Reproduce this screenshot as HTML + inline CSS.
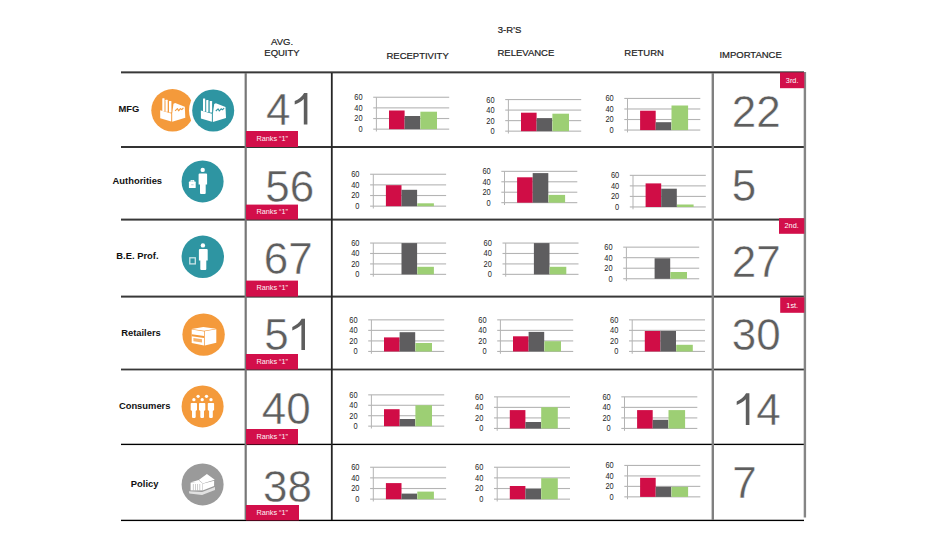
<!DOCTYPE html>
<html><head><meta charset="utf-8"><style>
html,body{margin:0;padding:0;background:#fff;width:940px;height:560px;overflow:hidden}
svg{display:block;font-family:"Liberation Sans", sans-serif}
</style></head><body>
<svg width="940" height="560" viewBox="0 0 940 560">
<rect x="121" y="71.36" width="683" height="2.0" fill="#383838"/>
<rect x="121" y="146.00" width="683" height="2.0" fill="#333333"/>
<rect x="121" y="218.60" width="683" height="2.0" fill="#383838"/>
<rect x="121" y="295.60" width="683" height="2.0" fill="#383838"/>
<rect x="121" y="368.60" width="683" height="1.8" fill="#383838"/>
<rect x="121" y="443.72" width="683" height="1.35" fill="#000000"/>
<rect x="121" y="519.73" width="683" height="1.35" fill="#000000"/>
<rect x="244.6" y="73" width="2.2" height="447" fill="#777777"/>
<rect x="330.9" y="73" width="1.8" height="447" fill="#262626"/>
<rect x="711.6" y="73" width="2.4" height="447" fill="#808080"/>
<rect x="803.7" y="72" width="2.4" height="445.5" fill="#858585"/>
<rect x="373.20" y="96.70" width="76.00" height="1.1" fill="#b4b4b4"/><rect x="373.20" y="107.33" width="76.00" height="1.1" fill="#b4b4b4"/><rect x="373.20" y="117.97" width="76.00" height="1.1" fill="#b4b4b4"/><rect x="373.20" y="128.60" width="76.00" height="1.1" fill="#b4b4b4"/><rect x="375.90" y="97.30" width="1.0" height="34.20" fill="#b4b4b4"/><rect x="389.00" y="110.50" width="15.60" height="18.70" fill="#d00d46"/><rect x="404.60" y="116.00" width="15.60" height="13.20" fill="#5e5d5f"/><rect x="420.40" y="111.70" width="16.60" height="17.50" fill="#9dcf74"/><text transform="translate(362.60,100.20) scale(0.9,1)" text-anchor="end" font-size="8.3" fill="#262626">60</text><text transform="translate(362.60,110.83) scale(0.9,1)" text-anchor="end" font-size="8.3" fill="#262626">40</text><text transform="translate(362.60,121.47) scale(0.9,1)" text-anchor="end" font-size="8.3" fill="#262626">20</text><text transform="translate(362.60,132.10) scale(0.9,1)" text-anchor="end" font-size="8.3" fill="#262626">0</text>
<rect x="505.20" y="99.00" width="76.00" height="1.1" fill="#b4b4b4"/><rect x="505.20" y="109.53" width="76.00" height="1.1" fill="#b4b4b4"/><rect x="505.20" y="120.07" width="76.00" height="1.1" fill="#b4b4b4"/><rect x="505.20" y="130.60" width="76.00" height="1.1" fill="#b4b4b4"/><rect x="507.90" y="99.60" width="1.0" height="33.90" fill="#b4b4b4"/><rect x="521.00" y="112.70" width="15.60" height="18.50" fill="#d00d46"/><rect x="536.60" y="118.10" width="15.60" height="13.10" fill="#5e5d5f"/><rect x="552.40" y="113.70" width="16.60" height="17.50" fill="#9dcf74"/><text transform="translate(494.60,102.50) scale(0.9,1)" text-anchor="end" font-size="8.3" fill="#262626">60</text><text transform="translate(494.60,113.03) scale(0.9,1)" text-anchor="end" font-size="8.3" fill="#262626">40</text><text transform="translate(494.60,123.57) scale(0.9,1)" text-anchor="end" font-size="8.3" fill="#262626">20</text><text transform="translate(494.60,134.10) scale(0.9,1)" text-anchor="end" font-size="8.3" fill="#262626">0</text>
<rect x="624.30" y="97.90" width="76.00" height="1.1" fill="#b4b4b4"/><rect x="624.30" y="108.43" width="76.00" height="1.1" fill="#b4b4b4"/><rect x="624.30" y="118.97" width="76.00" height="1.1" fill="#b4b4b4"/><rect x="624.30" y="129.50" width="76.00" height="1.1" fill="#b4b4b4"/><rect x="627.00" y="98.50" width="1.0" height="33.90" fill="#b4b4b4"/><rect x="640.10" y="110.70" width="15.60" height="19.40" fill="#d00d46"/><rect x="655.70" y="122.20" width="15.60" height="7.90" fill="#5e5d5f"/><rect x="671.50" y="105.50" width="16.60" height="24.60" fill="#9dcf74"/><text transform="translate(613.70,101.40) scale(0.9,1)" text-anchor="end" font-size="8.3" fill="#262626">60</text><text transform="translate(613.70,111.93) scale(0.9,1)" text-anchor="end" font-size="8.3" fill="#262626">40</text><text transform="translate(613.70,122.47) scale(0.9,1)" text-anchor="end" font-size="8.3" fill="#262626">20</text><text transform="translate(613.70,133.00) scale(0.9,1)" text-anchor="end" font-size="8.3" fill="#262626">0</text>
<rect x="370.10" y="173.70" width="76.00" height="1.1" fill="#b4b4b4"/><rect x="370.10" y="184.33" width="76.00" height="1.1" fill="#b4b4b4"/><rect x="370.10" y="194.97" width="76.00" height="1.1" fill="#b4b4b4"/><rect x="370.10" y="205.60" width="76.00" height="1.1" fill="#b4b4b4"/><rect x="372.80" y="174.30" width="1.0" height="34.20" fill="#b4b4b4"/><rect x="385.90" y="185.20" width="15.60" height="21.00" fill="#d00d46"/><rect x="401.50" y="189.80" width="15.60" height="16.40" fill="#5e5d5f"/><rect x="417.30" y="203.30" width="16.60" height="2.90" fill="#9dcf74"/><text transform="translate(359.50,177.20) scale(0.9,1)" text-anchor="end" font-size="8.3" fill="#262626">60</text><text transform="translate(359.50,187.83) scale(0.9,1)" text-anchor="end" font-size="8.3" fill="#262626">40</text><text transform="translate(359.50,198.47) scale(0.9,1)" text-anchor="end" font-size="8.3" fill="#262626">20</text><text transform="translate(359.50,209.10) scale(0.9,1)" text-anchor="end" font-size="8.3" fill="#262626">0</text>
<rect x="501.30" y="170.80" width="76.00" height="1.1" fill="#b4b4b4"/><rect x="501.30" y="181.23" width="76.00" height="1.1" fill="#b4b4b4"/><rect x="501.30" y="191.67" width="76.00" height="1.1" fill="#b4b4b4"/><rect x="501.30" y="202.10" width="76.00" height="1.1" fill="#b4b4b4"/><rect x="504.00" y="171.40" width="1.0" height="33.60" fill="#b4b4b4"/><rect x="517.10" y="177.30" width="15.60" height="25.40" fill="#d00d46"/><rect x="532.70" y="173.10" width="15.60" height="29.60" fill="#5e5d5f"/><rect x="548.50" y="194.90" width="16.60" height="7.80" fill="#9dcf74"/><text transform="translate(490.70,174.30) scale(0.9,1)" text-anchor="end" font-size="8.3" fill="#262626">60</text><text transform="translate(490.70,184.73) scale(0.9,1)" text-anchor="end" font-size="8.3" fill="#262626">40</text><text transform="translate(490.70,195.17) scale(0.9,1)" text-anchor="end" font-size="8.3" fill="#262626">20</text><text transform="translate(490.70,205.60) scale(0.9,1)" text-anchor="end" font-size="8.3" fill="#262626">0</text>
<rect x="629.80" y="174.80" width="76.00" height="1.1" fill="#b4b4b4"/><rect x="629.80" y="185.33" width="76.00" height="1.1" fill="#b4b4b4"/><rect x="629.80" y="195.87" width="76.00" height="1.1" fill="#b4b4b4"/><rect x="629.80" y="206.40" width="76.00" height="1.1" fill="#b4b4b4"/><rect x="632.50" y="175.40" width="1.0" height="33.90" fill="#b4b4b4"/><rect x="645.60" y="183.40" width="15.60" height="23.60" fill="#d00d46"/><rect x="661.20" y="188.70" width="15.60" height="18.30" fill="#5e5d5f"/><rect x="677.00" y="204.50" width="16.60" height="2.50" fill="#9dcf74"/><text transform="translate(619.20,178.30) scale(0.9,1)" text-anchor="end" font-size="8.3" fill="#262626">60</text><text transform="translate(619.20,188.83) scale(0.9,1)" text-anchor="end" font-size="8.3" fill="#262626">40</text><text transform="translate(619.20,199.37) scale(0.9,1)" text-anchor="end" font-size="8.3" fill="#262626">20</text><text transform="translate(619.20,209.90) scale(0.9,1)" text-anchor="end" font-size="8.3" fill="#262626">0</text>
<rect x="370.10" y="242.50" width="76.00" height="1.1" fill="#b4b4b4"/><rect x="370.10" y="252.93" width="76.00" height="1.1" fill="#b4b4b4"/><rect x="370.10" y="263.37" width="76.00" height="1.1" fill="#b4b4b4"/><rect x="370.10" y="273.80" width="76.00" height="1.1" fill="#b4b4b4"/><rect x="372.80" y="243.10" width="1.0" height="33.60" fill="#b4b4b4"/><rect x="401.50" y="243.10" width="15.60" height="31.30" fill="#5e5d5f"/><rect x="417.30" y="266.80" width="16.60" height="7.60" fill="#9dcf74"/><text transform="translate(359.50,246.00) scale(0.9,1)" text-anchor="end" font-size="8.3" fill="#262626">60</text><text transform="translate(359.50,256.43) scale(0.9,1)" text-anchor="end" font-size="8.3" fill="#262626">40</text><text transform="translate(359.50,266.87) scale(0.9,1)" text-anchor="end" font-size="8.3" fill="#262626">20</text><text transform="translate(359.50,277.30) scale(0.9,1)" text-anchor="end" font-size="8.3" fill="#262626">0</text>
<rect x="502.50" y="242.50" width="76.00" height="1.1" fill="#b4b4b4"/><rect x="502.50" y="252.93" width="76.00" height="1.1" fill="#b4b4b4"/><rect x="502.50" y="263.37" width="76.00" height="1.1" fill="#b4b4b4"/><rect x="502.50" y="273.80" width="76.00" height="1.1" fill="#b4b4b4"/><rect x="505.20" y="243.10" width="1.0" height="33.60" fill="#b4b4b4"/><rect x="533.90" y="243.10" width="15.60" height="31.30" fill="#5e5d5f"/><rect x="549.70" y="266.80" width="16.60" height="7.60" fill="#9dcf74"/><text transform="translate(491.90,246.00) scale(0.9,1)" text-anchor="end" font-size="8.3" fill="#262626">60</text><text transform="translate(491.90,256.43) scale(0.9,1)" text-anchor="end" font-size="8.3" fill="#262626">40</text><text transform="translate(491.90,266.87) scale(0.9,1)" text-anchor="end" font-size="8.3" fill="#262626">20</text><text transform="translate(491.90,277.30) scale(0.9,1)" text-anchor="end" font-size="8.3" fill="#262626">0</text>
<rect x="623.20" y="246.60" width="76.00" height="1.1" fill="#b4b4b4"/><rect x="623.20" y="257.13" width="76.00" height="1.1" fill="#b4b4b4"/><rect x="623.20" y="267.67" width="76.00" height="1.1" fill="#b4b4b4"/><rect x="623.20" y="278.20" width="76.00" height="1.1" fill="#b4b4b4"/><rect x="625.90" y="247.20" width="1.0" height="33.90" fill="#b4b4b4"/><rect x="654.60" y="258.30" width="15.60" height="20.50" fill="#5e5d5f"/><rect x="670.40" y="272.00" width="16.60" height="6.80" fill="#9dcf74"/><text transform="translate(612.60,250.10) scale(0.9,1)" text-anchor="end" font-size="8.3" fill="#262626">60</text><text transform="translate(612.60,260.63) scale(0.9,1)" text-anchor="end" font-size="8.3" fill="#262626">40</text><text transform="translate(612.60,271.17) scale(0.9,1)" text-anchor="end" font-size="8.3" fill="#262626">20</text><text transform="translate(612.60,281.70) scale(0.9,1)" text-anchor="end" font-size="8.3" fill="#262626">0</text>
<rect x="368.20" y="319.30" width="76.00" height="1.1" fill="#b4b4b4"/><rect x="368.20" y="329.83" width="76.00" height="1.1" fill="#b4b4b4"/><rect x="368.20" y="340.37" width="76.00" height="1.1" fill="#b4b4b4"/><rect x="368.20" y="350.90" width="76.00" height="1.1" fill="#b4b4b4"/><rect x="370.90" y="319.90" width="1.0" height="33.90" fill="#b4b4b4"/><rect x="384.00" y="337.40" width="15.60" height="14.10" fill="#d00d46"/><rect x="399.60" y="332.20" width="15.60" height="19.30" fill="#5e5d5f"/><rect x="415.40" y="343.00" width="16.60" height="8.50" fill="#9dcf74"/><text transform="translate(357.60,322.80) scale(0.9,1)" text-anchor="end" font-size="8.3" fill="#262626">60</text><text transform="translate(357.60,333.33) scale(0.9,1)" text-anchor="end" font-size="8.3" fill="#262626">40</text><text transform="translate(357.60,343.87) scale(0.9,1)" text-anchor="end" font-size="8.3" fill="#262626">20</text><text transform="translate(357.60,354.40) scale(0.9,1)" text-anchor="end" font-size="8.3" fill="#262626">0</text>
<rect x="497.20" y="319.30" width="76.00" height="1.1" fill="#b4b4b4"/><rect x="497.20" y="329.83" width="76.00" height="1.1" fill="#b4b4b4"/><rect x="497.20" y="340.37" width="76.00" height="1.1" fill="#b4b4b4"/><rect x="497.20" y="350.90" width="76.00" height="1.1" fill="#b4b4b4"/><rect x="499.90" y="319.90" width="1.0" height="33.90" fill="#b4b4b4"/><rect x="513.00" y="336.30" width="15.60" height="15.20" fill="#d00d46"/><rect x="528.60" y="331.90" width="15.60" height="19.60" fill="#5e5d5f"/><rect x="544.40" y="341.20" width="16.60" height="10.30" fill="#9dcf74"/><text transform="translate(486.60,322.80) scale(0.9,1)" text-anchor="end" font-size="8.3" fill="#262626">60</text><text transform="translate(486.60,333.33) scale(0.9,1)" text-anchor="end" font-size="8.3" fill="#262626">40</text><text transform="translate(486.60,343.87) scale(0.9,1)" text-anchor="end" font-size="8.3" fill="#262626">20</text><text transform="translate(486.60,354.40) scale(0.9,1)" text-anchor="end" font-size="8.3" fill="#262626">0</text>
<rect x="629.00" y="319.30" width="76.00" height="1.1" fill="#b4b4b4"/><rect x="629.00" y="329.83" width="76.00" height="1.1" fill="#b4b4b4"/><rect x="629.00" y="340.37" width="76.00" height="1.1" fill="#b4b4b4"/><rect x="629.00" y="350.90" width="76.00" height="1.1" fill="#b4b4b4"/><rect x="631.70" y="319.90" width="1.0" height="33.90" fill="#b4b4b4"/><rect x="644.80" y="331.00" width="15.60" height="20.50" fill="#d00d46"/><rect x="660.40" y="331.00" width="15.60" height="20.50" fill="#5e5d5f"/><rect x="676.20" y="344.80" width="16.60" height="6.70" fill="#9dcf74"/><text transform="translate(618.40,322.80) scale(0.9,1)" text-anchor="end" font-size="8.3" fill="#262626">60</text><text transform="translate(618.40,333.33) scale(0.9,1)" text-anchor="end" font-size="8.3" fill="#262626">40</text><text transform="translate(618.40,343.87) scale(0.9,1)" text-anchor="end" font-size="8.3" fill="#262626">20</text><text transform="translate(618.40,354.40) scale(0.9,1)" text-anchor="end" font-size="8.3" fill="#262626">0</text>
<rect x="368.20" y="394.30" width="76.00" height="1.1" fill="#b4b4b4"/><rect x="368.20" y="404.73" width="76.00" height="1.1" fill="#b4b4b4"/><rect x="368.20" y="415.17" width="76.00" height="1.1" fill="#b4b4b4"/><rect x="368.20" y="425.60" width="76.00" height="1.1" fill="#b4b4b4"/><rect x="370.90" y="394.90" width="1.0" height="33.60" fill="#b4b4b4"/><rect x="384.00" y="409.20" width="15.60" height="17.00" fill="#d00d46"/><rect x="399.60" y="419.00" width="15.60" height="7.20" fill="#5e5d5f"/><rect x="415.40" y="405.20" width="16.60" height="21.00" fill="#9dcf74"/><text transform="translate(357.60,397.80) scale(0.9,1)" text-anchor="end" font-size="8.3" fill="#262626">60</text><text transform="translate(357.60,408.23) scale(0.9,1)" text-anchor="end" font-size="8.3" fill="#262626">40</text><text transform="translate(357.60,418.67) scale(0.9,1)" text-anchor="end" font-size="8.3" fill="#262626">20</text><text transform="translate(357.60,429.10) scale(0.9,1)" text-anchor="end" font-size="8.3" fill="#262626">0</text>
<rect x="494.00" y="396.30" width="76.00" height="1.1" fill="#b4b4b4"/><rect x="494.00" y="406.83" width="76.00" height="1.1" fill="#b4b4b4"/><rect x="494.00" y="417.37" width="76.00" height="1.1" fill="#b4b4b4"/><rect x="494.00" y="427.90" width="76.00" height="1.1" fill="#b4b4b4"/><rect x="496.70" y="396.90" width="1.0" height="33.90" fill="#b4b4b4"/><rect x="509.80" y="410.10" width="15.60" height="18.40" fill="#d00d46"/><rect x="525.40" y="422.00" width="15.60" height="6.50" fill="#5e5d5f"/><rect x="541.20" y="407.20" width="16.60" height="21.30" fill="#9dcf74"/><text transform="translate(483.40,399.80) scale(0.9,1)" text-anchor="end" font-size="8.3" fill="#262626">60</text><text transform="translate(483.40,410.33) scale(0.9,1)" text-anchor="end" font-size="8.3" fill="#262626">40</text><text transform="translate(483.40,420.87) scale(0.9,1)" text-anchor="end" font-size="8.3" fill="#262626">20</text><text transform="translate(483.40,431.40) scale(0.9,1)" text-anchor="end" font-size="8.3" fill="#262626">0</text>
<rect x="621.30" y="396.30" width="76.00" height="1.1" fill="#b4b4b4"/><rect x="621.30" y="406.83" width="76.00" height="1.1" fill="#b4b4b4"/><rect x="621.30" y="417.37" width="76.00" height="1.1" fill="#b4b4b4"/><rect x="621.30" y="427.90" width="76.00" height="1.1" fill="#b4b4b4"/><rect x="624.00" y="396.90" width="1.0" height="33.90" fill="#b4b4b4"/><rect x="637.10" y="410.10" width="15.60" height="18.40" fill="#d00d46"/><rect x="652.70" y="419.80" width="15.60" height="8.70" fill="#5e5d5f"/><rect x="668.50" y="410.10" width="16.60" height="18.40" fill="#9dcf74"/><text transform="translate(610.70,399.80) scale(0.9,1)" text-anchor="end" font-size="8.3" fill="#262626">60</text><text transform="translate(610.70,410.33) scale(0.9,1)" text-anchor="end" font-size="8.3" fill="#262626">40</text><text transform="translate(610.70,420.87) scale(0.9,1)" text-anchor="end" font-size="8.3" fill="#262626">20</text><text transform="translate(610.70,431.40) scale(0.9,1)" text-anchor="end" font-size="8.3" fill="#262626">0</text>
<rect x="370.10" y="466.70" width="76.00" height="1.1" fill="#b4b4b4"/><rect x="370.10" y="477.33" width="76.00" height="1.1" fill="#b4b4b4"/><rect x="370.10" y="487.97" width="76.00" height="1.1" fill="#b4b4b4"/><rect x="370.10" y="498.60" width="76.00" height="1.1" fill="#b4b4b4"/><rect x="372.80" y="467.30" width="1.0" height="34.20" fill="#b4b4b4"/><rect x="385.90" y="483.10" width="15.60" height="16.10" fill="#d00d46"/><rect x="401.50" y="493.60" width="15.60" height="5.60" fill="#5e5d5f"/><rect x="417.30" y="491.60" width="16.60" height="7.60" fill="#9dcf74"/><text transform="translate(359.50,470.20) scale(0.9,1)" text-anchor="end" font-size="8.3" fill="#262626">60</text><text transform="translate(359.50,480.83) scale(0.9,1)" text-anchor="end" font-size="8.3" fill="#262626">40</text><text transform="translate(359.50,491.47) scale(0.9,1)" text-anchor="end" font-size="8.3" fill="#262626">20</text><text transform="translate(359.50,502.10) scale(0.9,1)" text-anchor="end" font-size="8.3" fill="#262626">0</text>
<rect x="494.00" y="466.70" width="76.00" height="1.1" fill="#b4b4b4"/><rect x="494.00" y="477.33" width="76.00" height="1.1" fill="#b4b4b4"/><rect x="494.00" y="487.97" width="76.00" height="1.1" fill="#b4b4b4"/><rect x="494.00" y="498.60" width="76.00" height="1.1" fill="#b4b4b4"/><rect x="496.70" y="467.30" width="1.0" height="34.20" fill="#b4b4b4"/><rect x="509.80" y="486.00" width="15.60" height="13.20" fill="#d00d46"/><rect x="525.40" y="488.90" width="15.60" height="10.30" fill="#5e5d5f"/><rect x="541.20" y="478.20" width="16.60" height="21.00" fill="#9dcf74"/><text transform="translate(483.40,470.20) scale(0.9,1)" text-anchor="end" font-size="8.3" fill="#262626">60</text><text transform="translate(483.40,480.83) scale(0.9,1)" text-anchor="end" font-size="8.3" fill="#262626">40</text><text transform="translate(483.40,491.47) scale(0.9,1)" text-anchor="end" font-size="8.3" fill="#262626">20</text><text transform="translate(483.40,502.10) scale(0.9,1)" text-anchor="end" font-size="8.3" fill="#262626">0</text>
<rect x="624.30" y="464.90" width="76.00" height="1.1" fill="#b4b4b4"/><rect x="624.30" y="475.37" width="76.00" height="1.1" fill="#b4b4b4"/><rect x="624.30" y="485.83" width="76.00" height="1.1" fill="#b4b4b4"/><rect x="624.30" y="496.30" width="76.00" height="1.1" fill="#b4b4b4"/><rect x="627.00" y="465.50" width="1.0" height="33.70" fill="#b4b4b4"/><rect x="640.10" y="477.80" width="15.60" height="19.10" fill="#d00d46"/><rect x="655.70" y="486.80" width="15.60" height="10.10" fill="#5e5d5f"/><rect x="671.50" y="486.80" width="16.60" height="10.10" fill="#9dcf74"/><text transform="translate(613.70,468.40) scale(0.9,1)" text-anchor="end" font-size="8.3" fill="#262626">60</text><text transform="translate(613.70,478.87) scale(0.9,1)" text-anchor="end" font-size="8.3" fill="#262626">40</text><text transform="translate(613.70,489.33) scale(0.9,1)" text-anchor="end" font-size="8.3" fill="#262626">20</text><text transform="translate(613.70,499.80) scale(0.9,1)" text-anchor="end" font-size="8.3" fill="#262626">0</text>
<rect x="246" y="131.00" width="52.0" height="16.00" fill="#d20f4a"/>
<text x="256.4" y="140.50" font-size="7.3" fill="#fdf2f5">Ranks “1”</text>
<rect x="246" y="204.60" width="52.0" height="15.00" fill="#d20f4a"/>
<text x="256.4" y="214.10" font-size="7.3" fill="#fdf2f5">Ranks “1”</text>
<rect x="246" y="280.60" width="52.0" height="16.00" fill="#d20f4a"/>
<text x="256.4" y="290.10" font-size="7.3" fill="#fdf2f5">Ranks “1”</text>
<rect x="246" y="354.00" width="52.0" height="15.50" fill="#d20f4a"/>
<text x="256.4" y="363.50" font-size="7.3" fill="#fdf2f5">Ranks “1”</text>
<rect x="246" y="429.00" width="52.0" height="15.40" fill="#d20f4a"/>
<text x="256.4" y="438.50" font-size="7.3" fill="#fdf2f5">Ranks “1”</text>
<rect x="246" y="505.00" width="53.0" height="15.40" fill="#d20f4a"/>
<text x="256.4" y="514.50" font-size="7.3" fill="#fdf2f5">Ranks “1”</text>
<rect x="780.00" y="72.40" width="24.30" height="15.80" fill="#d20f4a"/>
<text x="792.15" y="82.60" text-anchor="middle" font-size="7.3" fill="#fff">3rd.</text>
<rect x="779.00" y="218.20" width="25.30" height="15.60" fill="#d20f4a"/>
<text x="791.65" y="228.40" text-anchor="middle" font-size="7.3" fill="#fff">2nd.</text>
<rect x="780.20" y="297.30" width="24.10" height="15.50" fill="#d20f4a"/>
<text x="792.25" y="307.50" text-anchor="middle" font-size="7.3" fill="#fff">1st.</text>
<text x="265.90" y="124.60" font-size="44" fill="#5e5e5e" stroke="#fff" stroke-width="0.45">4</text>
<path fill="#5e5e5e" d="M304.10,92.90 L307.40,92.90 L307.40,124.60 L303.80,124.60 L303.80,98.90 C301.50,101.30 298.10,103.30 294.70,104.60 L294.70,101.10 C298.30,99.50 301.90,96.90 304.10,92.90 Z"/>
<text x="265.20" y="202.20" font-size="44" fill="#5e5e5e" stroke="#fff" stroke-width="0.45">56</text>
<text x="263.70" y="274.20" font-size="44" fill="#5e5e5e" stroke="#fff" stroke-width="0.45">67</text>
<text x="264.20" y="350.10" font-size="44" fill="#5e5e5e" stroke="#fff" stroke-width="0.45">5</text>
<path fill="#5e5e5e" d="M301.70,318.70 L305.00,318.70 L305.00,350.10 L301.40,350.10 L301.40,324.70 C299.10,327.10 295.70,329.10 292.30,330.40 L292.30,326.90 C295.90,325.30 299.50,322.70 301.70,318.70 Z"/>
<text x="261.70" y="424.20" font-size="44" fill="#5e5e5e" stroke="#fff" stroke-width="0.45">40</text>
<text x="263.10" y="501.90" font-size="44" fill="#5e5e5e" stroke="#fff" stroke-width="0.45">38</text>
<text x="731.70" y="127.00" font-size="44" fill="#5e5e5e" stroke="#fff" stroke-width="0.45">22</text>
<text x="731.70" y="201.20" font-size="44" fill="#5e5e5e" stroke="#fff" stroke-width="0.45">5</text>
<text x="731.75" y="276.90" font-size="44" fill="#5e5e5e" stroke="#fff" stroke-width="0.45">27</text>
<text x="731.75" y="350.00" font-size="44" fill="#5e5e5e" stroke="#fff" stroke-width="0.45">30</text>
<path fill="#5e5e5e" d="M746.10,393.30 L749.40,393.30 L749.40,424.90 L745.80,424.90 L745.80,399.30 C743.50,401.70 740.10,403.70 736.70,405.00 L736.70,401.50 C740.30,399.90 743.90,397.30 746.10,393.30 Z"/>
<text x="756.17" y="424.90" font-size="44" fill="#5e5e5e" stroke="#fff" stroke-width="0.45">4</text>
<text x="732.20" y="498.40" font-size="44" fill="#5e5e5e" stroke="#fff" stroke-width="0.45">7</text>
<text transform="translate(497.70,33.30) scale(0.96,1)" font-size="9.9" fill="#222" stroke="#222" stroke-width="0.22">3-R’S</text>
<text transform="translate(271.10,45.00) scale(0.96,1)" font-size="9.9" fill="#222" stroke="#222" stroke-width="0.22">AVG.</text>
<text transform="translate(264.30,55.60) scale(0.96,1)" font-size="9.9" fill="#222" stroke="#222" stroke-width="0.22">EQUITY</text>
<text transform="translate(386.50,58.60) scale(0.96,1)" font-size="9.9" fill="#222" stroke="#222" stroke-width="0.22">RECEPTIVITY</text>
<text transform="translate(497.50,56.20) scale(0.96,1)" font-size="9.9" fill="#222" stroke="#222" stroke-width="0.22">RELEVANCE</text>
<text transform="translate(624.30,56.20) scale(0.96,1)" font-size="9.9" fill="#222" stroke="#222" stroke-width="0.22">RETURN</text>
<text transform="translate(719.40,58.40) scale(0.96,1)" font-size="9.9" fill="#222" stroke="#222" stroke-width="0.22">IMPORTANCE</text>
<text x="118.40" y="111.60" font-size="9.4" font-weight="bold" fill="#111">MFG</text>
<text x="112.60" y="184.10" font-size="9.4" font-weight="bold" fill="#111">Authorities</text>
<text x="116.30" y="259.10" font-size="9.4" font-weight="bold" fill="#111">B.E. Prof.</text>
<text x="121.20" y="336.00" font-size="9.4" font-weight="bold" fill="#111">Retailers</text>
<text x="118.90" y="408.80" font-size="9.4" font-weight="bold" fill="#111">Consumers</text>
<text x="130.80" y="486.50" font-size="9.4" font-weight="bold" fill="#111">Policy</text>
<circle cx="172.5" cy="110.3" r="21.2" fill="#f49a3b"/>
<circle cx="213.2" cy="110.5" r="24.2" fill="#fff"/>
<circle cx="213.2" cy="110.5" r="21.0" fill="#2e95a2"/>
<g transform="translate(157.50,95.80)" fill="#fff"><rect x="4.8" y="2.4" width="2.2" height="13" rx="0.4"/><rect x="8.0" y="4.0" width="2.2" height="12" rx="0.4"/><rect x="11.5" y="5.1" width="2.4" height="11.5" rx="0.4"/><polygon points="2.7,14.5 13.7,17.7 13.7,25.7 2.7,22.5"/><polygon points="14.7,17.4 16,8 17.7,7.2 27.3,11 27.8,22 14.7,26"/><polyline points="17.6,15.0 19.9,12.8 21.1,15.0 22.9,12.8 24.3,13.8 25.9,12.0" fill="none" stroke="#f49a3b" stroke-width="1.1" stroke-linejoin="round"/></g>
<g transform="translate(198.20,96.00)" fill="#fff"><rect x="4.8" y="2.4" width="2.2" height="13" rx="0.4"/><rect x="8.0" y="4.0" width="2.2" height="12" rx="0.4"/><rect x="11.5" y="5.1" width="2.4" height="11.5" rx="0.4"/><polygon points="2.7,14.5 13.7,17.7 13.7,25.7 2.7,22.5"/><polygon points="14.7,17.4 16,8 17.7,7.2 27.3,11 27.8,22 14.7,26"/><polyline points="17.6,15.0 19.9,12.8 21.1,15.0 22.9,12.8 24.3,13.8 25.9,12.0" fill="none" stroke="#2e95a2" stroke-width="1.1" stroke-linejoin="round"/></g>
<circle cx="202.6" cy="181.4" r="21.0" fill="#2e95a2"/>
<g transform="translate(181.60,160.40)" fill="#fff"><circle cx="21.1" cy="9.5" r="2.2"/><path d="M18.0,13.2 H24.5 Q25.5,13.2 25.5,14.2 V24.0 H24.1 V32.5 Q24.1,33.5 23.1,33.5 H19.4 Q18.4,33.5 18.4,32.5 V24.0 H17.0 V14.2 Q17.0,13.2 18.0,13.2 Z"/><rect x="7.3" y="21.2" width="6.8" height="6.5" rx="0.6"/><rect x="9.4" y="20.0" width="2.8" height="1.6" fill="none" stroke="#fff" stroke-width="0.8"/><rect x="9.6" y="24.0" width="2.4" height="0.8" fill="#2e95a2" opacity="0.5"/></g>
<circle cx="202.8" cy="256.8" r="21.2" fill="#2e95a2"/>
<g transform="translate(181.80,235.80)" fill="#fff"><circle cx="21.1" cy="9.6" r="2.2"/><path d="M18.1,13.3 H24.9 Q25.9,13.3 25.9,14.3 V24.8 H24.5 V33.2 Q24.5,34.2 23.5,34.2 H19.5 Q18.5,34.2 18.5,33.2 V24.8 H17.1 V14.3 Q17.1,13.3 18.1,13.3 Z"/><rect x="8.0" y="22.0" width="5.5" height="6.1" fill="none" stroke="#fff" stroke-opacity="0.75" stroke-width="1.3"/></g>
<circle cx="203.6" cy="334.6" r="21.2" fill="#f49a3b"/>
<g transform="translate(182.40,313.40)" fill="#fff"><polygon points="9.3,15.6 20.9,13.5 33.7,15.3 21.8,17.4"/><polygon points="9.3,16.2 21.7,18.0 21.7,32.0 9.3,29.6"/><polygon points="22.4,17.9 33.9,15.8 33.9,29.4 22.4,32.0"/><polygon points="9.3,20.8 21.7,22.6 21.7,24.7 9.3,22.8" fill="#f49a3b"/><polygon points="11.0,24.6 19.6,25.8 19.6,29.0 11.0,27.9" fill="#f49a3b" opacity="0.75"/></g>
<circle cx="202.6" cy="406.4" r="21.0" fill="#f49a3b"/>
<g transform="translate(181.60,385.40)" fill="#fff"><path d="M9.90,17.5 H14.60 Q15.40,17.5 15.40,18.3 V24.6 L14.10,25.6 V31.7 Q14.10,32.5 13.30,32.5 H11.20 Q10.40,32.5 10.40,31.7 V25.6 L9.10,24.6 V18.3 Q9.10,17.5 9.90,17.5 Z"/><path d="M18.20,17.5 H22.90 Q23.70,17.5 23.70,18.3 V24.6 L22.40,25.6 V31.7 Q22.40,32.5 21.60,32.5 H19.50 Q18.70,32.5 18.70,31.7 V25.6 L17.40,24.6 V18.3 Q17.40,17.5 18.20,17.5 Z"/><path d="M27.00,17.5 H31.70 Q32.50,17.5 32.50,18.3 V24.6 L31.20,25.6 V31.7 Q31.20,32.5 30.40,32.5 H28.30 Q27.50,32.5 27.50,31.7 V25.6 L26.20,24.6 V18.3 Q26.20,17.5 27.00,17.5 Z"/><circle cx="12.3" cy="14.3" r="1.65"/><circle cx="20.6" cy="14.3" r="1.65"/><circle cx="29.4" cy="14.3" r="1.65"/><circle cx="16.5" cy="10.9" r="1.65"/><circle cx="24.9" cy="10.9" r="1.65"/></g>
<circle cx="202.6" cy="484.4" r="21.0" fill="#9a9a9a"/>
<g transform="translate(181.60,463.40)" fill="#fff"><polygon points="8.5,19.1 17.1,16.5 25.3,10.5 33.2,16.3 21.0,20.0"/><line x1="17.1" y1="16.5" x2="21.0" y2="20.0" stroke="#9a9a9a" stroke-width="0.6" opacity="0.8"/><polygon points="21.0,20.4 32.5,17.3 32.5,22.7 21.0,27.0"/><rect x="9.0" y="19.6" width="11.8" height="7.4"/><rect x="11.3" y="20.6" width="0.8" height="6.4" fill="#9a9a9a" opacity="0.6"/><rect x="13.6" y="20.6" width="0.8" height="6.4" fill="#9a9a9a" opacity="0.6"/><rect x="15.6" y="20.6" width="0.8" height="6.4" fill="#9a9a9a" opacity="0.6"/><rect x="17.8" y="20.6" width="0.8" height="6.4" fill="#9a9a9a" opacity="0.6"/><polygon points="7.3,27.9 20.5,28.7 33.4,23.6 33.4,26.6 20.5,31.7 7.7,30.0" opacity="0.7"/></g>
</svg>
</body></html>
